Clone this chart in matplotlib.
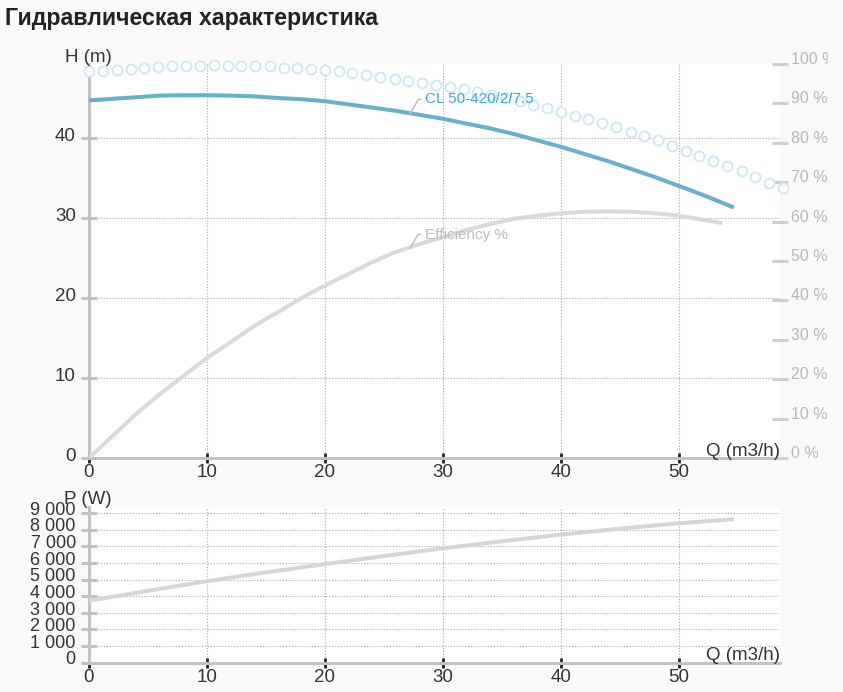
import matplotlib
matplotlib.use('Agg')
import matplotlib.pyplot as plt
from matplotlib.transforms import ScaledTranslation, Bbox

plt.rcParams['font.family'] = ['Liberation Sans', 'DejaVu Sans']

# Head curve H (m) vs flow Q (m3/h)
q_head = [0, 2, 4, 6, 8, 10, 12, 14, 16, 18, 20, 22, 24, 26, 28, 30, 32, 34,
          36, 38, 40, 42, 44, 46, 48, 50, 52, 54.5]
head = [44.7, 44.9, 45.1, 45.3, 45.35, 45.35, 45.3, 45.2, 45.0, 44.85, 44.6,
        44.2, 43.8, 43.4, 42.9, 42.4, 41.8, 41.2, 40.5, 39.7, 38.9, 38.0, 37.1,
        36.1, 35.1, 34.0, 32.9, 31.4]

# Efficiency (%)
q_eff = [0, 2, 4, 6, 8, 10, 12, 14, 16, 18, 20, 22, 24, 26, 28, 30, 32, 34,
         36, 38, 40, 42, 44, 46, 48, 50, 52, 53.5]
eff = [0, 5.6, 11.2, 16.2, 20.8, 25.4, 29.4, 33.5, 37.0, 40.6, 43.8, 46.7,
       49.7, 52.3, 54.3, 56.0, 57.9, 59.4, 60.7, 61.5, 62.1, 62.5, 62.6, 62.5,
       62.1, 61.5, 60.5, 59.7]

# Dotted series (%)
q_dots = [0, 1.18, 2.35, 3.53, 4.70, 5.88, 7.06, 8.23, 9.41, 10.6, 11.8, 12.9,
          14.1, 15.3, 16.5, 17.6, 18.8, 20.0, 21.2, 22.3, 23.5, 24.7, 25.9,
          27.0, 28.2, 29.4, 30.6, 31.8, 32.9, 34.1, 35.3, 36.5, 37.6, 38.8,
          40.0, 41.2, 42.3, 43.5, 44.7, 45.9, 47.0, 48.2, 49.4, 50.6, 51.7,
          52.9, 54.1, 55.3, 56.4, 57.6, 58.8]
dots = [98.1, 98.3, 98.5, 98.8, 99.1, 99.3, 99.4, 99.5, 99.5, 99.8, 99.5, 99.5,
        99.5, 99.4, 99.1, 98.9, 98.7, 98.5, 98.2, 97.7, 97.2, 96.7, 96.3, 95.7,
        95.2, 94.7, 94.2, 93.6, 93.0, 92.2, 91.4, 90.5, 89.7, 88.8, 87.9, 86.8,
        86.0, 85.0, 83.9, 82.8, 81.7, 80.7, 79.3, 78.0, 76.7, 75.4, 74.2, 72.9,
        71.4, 69.9, 68.6]

# Power P (W)
q_pow = [0, 5, 10, 15, 20, 25, 30, 35, 40, 45, 50, 54.5]
power = [3720, 4320, 4900, 5430, 5930, 6410, 6880, 7300, 7700, 8060, 8380, 8620]

x_ticks = [0, 10, 20, 30, 40, 50]
h_ticks = [0, 10, 20, 30, 40]
pct_ticks = [0, 10, 20, 30, 40, 50, 60, 70, 80, 90, 100]
p_ticks = [0, 1000, 2000, 3000, 4000, 5000, 6000, 7000, 8000, 9000]

W, H = 843, 692
fig = plt.figure(figsize=(W / 100, H / 100), dpi=100, facecolor='#f9f9f9')

AXIS_GREY = '#c2c2c2'
GRID = dict(color='#a8a8a8', linestyle=(0, (1, 1.6)), linewidth=0.8)
TXT = '#333333'
FS = 13.5


def style_axes(ax, yfs):
    ax.set_facecolor('white')
    for s in ['top', 'right']:
        ax.spines[s].set_visible(False)
    for s in ['left', 'bottom']:
        ax.spines[s].set_color(AXIS_GREY)
        ax.spines[s].set_linewidth(2.2)
    ax.tick_params(axis='y', direction='inout', length=12.2, width=2.2,
                   color=AXIS_GREY, pad=3.4, labelsize=yfs, labelcolor=TXT)
    ax.tick_params(axis='x', direction='inout', length=6.5, width=2.0,
                   color='#222222', pad=1, labelsize=FS, labelcolor=TXT)
    ax.grid(True, **GRID)
    ax.set_axisbelow(True)


def shift_labels(labels, dy_px):
    off = ScaledTranslation(0, -dy_px / 100, fig.dpi_scale_trans)
    for lbl in labels:
        lbl.set_verticalalignment('baseline')
        lbl.set_transform(lbl.get_transform() + off)


# ---- top chart: head and efficiency ----
ax1 = fig.add_axes([89 / W, 1 - 458 / H, (780 - 89) / W, (458 - 64) / H])
style_axes(ax1, FS)
ax1.set_xlim(0, 58.56)
ax1.set_ylim(0, 49.25)
ax1.set_xticks(x_ticks)
ax1.set_yticks(h_ticks)
shift_labels(ax1.get_yticklabels(), 3.0)

ax1r = ax1.twinx()
for s in ax1r.spines.values():
    s.set_visible(False)
ax1r.set_ylim(0, 100)
ax1r.set_yticks(pct_ticks)
ax1r.set_yticklabels([f'{v} %' for v in pct_ticks])
ax1r.tick_params(axis='y', direction='inout', length=12.2, width=2.2,
                 color='#cfcfcf', pad=1.8, labelsize=11.5, labelcolor='#b8b8b8')
# the chart container cuts the right labels off near x=828 px
clip = Bbox([[0, 0], [828, H]])
for lbl in ax1r.get_yticklabels():
    lbl.set_verticalalignment('baseline')
    lbl.set_clip_box(clip)
    lbl.set_clip_on(True)

ax1r.plot(q_dots, dots, linestyle='none', marker='o', markersize=7.2,
          markerfacecolor='white', markeredgecolor='#d0e9f5',
          markeredgewidth=1.4, clip_on=False, zorder=2)
ax1r.plot(q_eff, eff, color='#dadada', linewidth=2.9, zorder=3)
ax1.plot(q_head, head, color='#68b0cc', linewidth=2.9, zorder=3)

# labels sit on the top axes so they stay above the dots
ax1r.annotate('CL 50-420/2/7.5', xy=(27.2, 43.0 / 49.25 * 100),
              xytext=(10.8, 10.6), textcoords='offset points',
              ha='left', va='center', fontsize=11, color='#3aa9d9', zorder=5,
              arrowprops=dict(arrowstyle='-', color='#bcbcbc', lw=1.1,
                              relpos=(0, 0.5), shrinkA=1, shrinkB=0,
                              connectionstyle='angle,angleA=0,angleB=60,rad=0'))
ax1r.annotate('Efficiency %', xy=(27.2, 53.2), xytext=(10.8, 10.0),
              textcoords='offset points', ha='left', va='center',
              fontsize=11, color='#bdbdbd', zorder=5,
              arrowprops=dict(arrowstyle='-', color='#bcbcbc', lw=1.1,
                              relpos=(0, 0.5), shrinkA=1, shrinkB=0,
                              connectionstyle='angle,angleA=0,angleB=60,rad=0'))

# ---- bottom chart: power ----
ax2 = fig.add_axes([89 / W, 1 - 662.7 / H, (780 - 89) / W, (662.7 - 507) / H])
style_axes(ax2, 13)
ax2.set_xlim(0, 58.56)
ax2.set_ylim(0, 9360)
ax2.set_xticks(x_ticks)
ax2.set_yticks(p_ticks)
ax2.set_yticklabels([f'{v:,}'.replace(',', ' ') for v in p_ticks])
shift_labels(ax2.get_yticklabels(), 1.8)
ax2.plot(q_pow, power, color='#d6d6d6', linewidth=2.9, zorder=3)

# ---- texts ----
fig.text(5 / W, 1 - 18 / H, 'Гидравлическая характеристика', ha='left',
         va='center', fontsize=16.7, fontweight='bold', color='#222222')
fig.text(88.5 / W, 1 - 57 / H, 'H (m)', ha='center', va='center',
         fontsize=FS, color=TXT)
fig.text(780 / W, 1 - 451 / H, 'Q (m3/h)', ha='right', va='center',
         fontsize=FS, color=TXT)
fig.text(88 / W, 1 - 499 / H, 'P (W)', ha='center', va='center',
         fontsize=FS, color=TXT)
fig.text(780 / W, 1 - 655 / H, 'Q (m3/h)', ha='right', va='center',
         fontsize=FS, color=TXT)

fig.savefig('out.png', dpi=100, facecolor=fig.get_facecolor())
